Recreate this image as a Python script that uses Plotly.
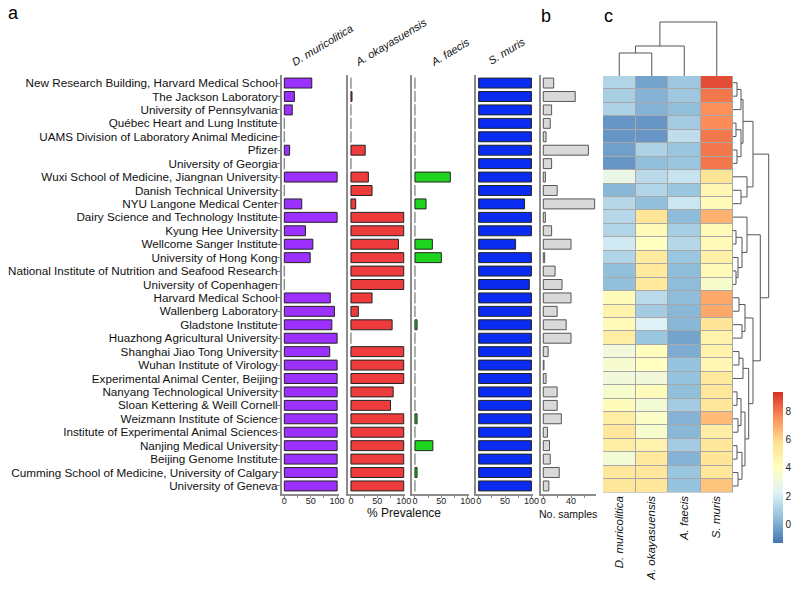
import plotly.graph_objects as go

W, H = 800, 590
def px(p): return p / W
def py(p): return 1 - p / H

FONT = "Arial, Liberation Sans, Helvetica, sans-serif"

institutions = [
    "New Research Building, Harvard Medical School", "The Jackson Laboratory",
    "University of Pennsylvania", "Québec Heart and Lung Institute",
    "UAMS Division of Laboratory Animal Medicine", "Pfizer", "University of Georgia",
    "Wuxi School of Medicine, Jiangnan University", "Danish Technical University",
    "NYU Langone Medical Center", "Dairy Science and Technology Institute",
    "Kyung Hee University", "Wellcome Sanger Institute", "University of Hong Kong",
    "National Institute of Nutrition and Seafood Research", "University of Copenhagen",
    "Harvard Medical School", "Wallenberg Laboratory", "Gladstone Institute",
    "Huazhong Agricultural University", "Shanghai Jiao Tong University",
    "Wuhan Institute of Virology", "Experimental Animal Center, Beijing",
    "Nanyang Technological University", "Sloan Kettering & Weill Cornell",
    "Weizmann Institute of Science", "Institute of Experimental Animal Sciences",
    "Nanjing Medical University", "Beijing Genome Institute",
    "Cumming School of Medicine, University of Calgary", "University of Geneva",
]
species = ["D. muricolitica", "A. okayasuensis", "A. faecis", "S. muris"]

prev_d_muricolitica = [52, 19, 15, 0, 0, 10, 0, 100, 0, 33, 100, 40, 54, 49, 0, 0,
                       87, 95, 90, 100, 86, 100, 100, 100, 100, 100, 100, 100, 100, 100, 100]
prev_a_okayasuensis = [0, 2, 0, 0, 0, 27, 0, 33, 40, 9, 100, 100, 90, 100, 100, 100,
                       40, 14, 78, 0, 100, 100, 100, 80, 75, 100, 100, 100, 100, 100, 100]
prev_a_faecis = [0, 0, 0, 0, 0, 0, 0, 67, 0, 21, 0, 0, 33, 50, 0, 0,
                 0, 0, 4, 0, 0, 0, 0, 0, 0, 4, 0, 34, 0, 4, 0]
prev_s_muris = [100, 100, 100, 100, 100, 100, 100, 100, 100, 87, 100, 100, 70, 100, 100, 96,
                100, 100, 100, 100, 100, 100, 100, 100, 100, 100, 100, 100, 100, 100, 100]
n_samples = [15, 46, 12, 10, 4, 65, 12, 3, 20, 74, 3, 12, 40, 2, 17, 27,
             40, 20, 33, 40, 7, 1, 4, 20, 20, 26, 6, 9, 10, 23, 8]

# clustered heatmap (rows in dendrogram order)
heat_d_muricolitica = [1.2, 1.0, 1.1, -0.5, -0.5, -0.3, -0.5, 2.8, 0.3, 1.3, 1.3, 1.2, 1.9, 1.2, 0.5, 0.5,
                       4.2, 4.8, 4.3, 5.0, 3.2, 3.5, 3.2, 3.6, 4.2, 5.0, 5.4, 5.0, 3.3, 5.4, 5.4]
heat_a_okayasuensis = [-0.2, 0.2, 0.2, -0.5, -0.5, 1.1, 0.5, 1.4, 1.2, 0.5, 5.5, 4.3, 4.0, 5.2, 5.3, 5.3,
                       1.4, 0.9, 2.2, 0.7, 4.1, 4.0, 3.2, 4.2, 3.3, 3.8, 3.6, 4.7, 5.3, 5.4, 5.4]
heat_a_faecis = [0.8, 0.8, 0.5, 0.9, 1.5, 0.7, 0.7, 1.7, 0.7, 1.8, 0.4, 1.0, 1.3, 0.7, 0.4, 0.4,
                 0.4, 0.3, 0.3, -0.2, 0.0, 0.6, 0.6, 0.5, 0.9, 0.2, 0.3, 0.9, 0.2, 0.7, 0.6]
heat_s_muris = [8.8, 8.0, 7.5, 7.6, 8.0, 8.0, 8.0, 5.6, 4.5, 4.3, 6.8, 4.3, 4.3, 4.9, 4.3, 3.6,
                7.0, 7.0, 5.5, 4.8, 4.8, 4.5, 5.3, 5.4, 5.4, 6.6, 5.0, 5.4, 5.5, 5.4, 6.4]
colorbar_ticks = [0, 2, 4, 6, 8]

# dendrogram structures: (left, right, merge height)
col_tree = (((0, 1, 23), 2, 30), 3, 54)
row_tree = (
    ((((0, 1, 4), 2, 8), ((3, 4, 3), (5, 6, 4), 8), 10), (7, (8, 9, 8), 14), 20),
    ((10, ((11, 12, 3), (13, (14, 15, 3), 5), 9), 14),
     (((16, 17, 6), (18, 19, 9), 12),
      (((20, 21, 6), 22, 10),
       (((23, 24, 4), (25, 26, 5), 8), ((27, 28, 4), (29, 30, 5), 9), 12), 15.7), 20), 27.3),
    35.7)

bar_colors = ["#9B30FF", "#EE3B3B", "#1ED41E", "#0A2BF0"]
prev_series = [prev_d_muricolitica, prev_a_okayasuensis, prev_a_faecis, prev_s_muris]
panel_left = [281.7, 348.3, 412.3, 476.0]
panel_w = 57
AX = "#8c8c8c"
bar_dom = [py(494), py(75)]
rows = list(range(len(institutions)))

fig = go.Figure()
layout = dict(
    width=W, height=H, margin=dict(l=0, r=0, t=0, b=0, autoexpand=False),
    paper_bgcolor="white", plot_bgcolor="white", showlegend=False,
    font=dict(family=FONT, color="#111"), template="none",
)

xtickfont = dict(size=9, color="#222")
for i, vals in enumerate(prev_series):
    k = i + 1
    xa, ya = f"x{k}", f"y{k}"
    fig.add_trace(go.Bar(
        orientation="h", y=rows, x=[v if v > 0 else None for v in vals],
        width=0.74, marker=dict(color=bar_colors[i], line=dict(color="#222", width=1)),
        xaxis=xa, yaxis=ya))
    zeros = [r for r, v in zip(rows, vals) if v == 0]
    if zeros:
        fig.add_trace(go.Scatter(
            x=[0] * len(zeros), y=zeros, mode="markers", cliponaxis=False,
            marker=dict(symbol="line-ns", size=8, color="#888",
                        line=dict(color="#8a8a8a", width=1.4)),
            xaxis=xa, yaxis=ya))
    L = panel_left[i]
    layout[f"xaxis{k}"] = dict(
        domain=[px(L), px(L + panel_w)], range=[-5, 103], anchor=ya,
        showline=True, linecolor=AX, linewidth=1.5, showgrid=False, zeroline=False,
        ticks="outside", ticklen=2, tickcolor=AX, tickvals=[0, 50, 100],
        tickfont=xtickfont, ticklabelstandoff=-5,
        minor=dict(dtick=25, ticks="outside", ticklen=2, tickcolor=AX, showgrid=False))
    yax = dict(domain=bar_dom, range=[30.6, -0.6], anchor=xa, showline=True,
               linecolor=AX, linewidth=1.5, showgrid=False, zeroline=False)
    if i == 0:
        yax.update(tickvals=rows, ticktext=institutions, ticks="outside", ticklen=3,
                   tickcolor=AX, tickfont=dict(size=11.7, color="#111"),
                   ticklabelstandoff=-3)
    else:
        yax.update(showticklabels=False, ticks="")
    layout[f"yaxis{k}"] = yax

# panel b: number of samples
fig.add_trace(go.Bar(orientation="h", y=rows, x=n_samples, width=0.74,
                     marker=dict(color="#d9d9d9", line=dict(color="#555", width=1)),
                     xaxis="x5", yaxis="y5"))
layout["xaxis5"] = dict(
    domain=[px(541), px(596)], range=[-3.3, 76], anchor="y5",
    showline=True, linecolor=AX, linewidth=1.5, showgrid=False, zeroline=False,
    ticks="outside", ticklen=2, tickcolor=AX, tickvals=[0, 40],
    tickfont=xtickfont, ticklabelstandoff=-5,
    minor=dict(dtick=20, ticks="outside", ticklen=2, tickcolor=AX, showgrid=False))
layout["yaxis5"] = dict(domain=bar_dom, range=[30.6, -0.6], anchor="x5", showline=True,
                        linecolor=AX, linewidth=1.5, showgrid=False, zeroline=False,
                        showticklabels=False, ticks="")

# panel c: heatmap
z = [list(r) for r in zip(heat_d_muricolitica, heat_a_okayasuensis, heat_a_faecis, heat_s_muris)]
scale = ["#4575B4", "#91BFDB", "#E0F3F8", "#FFFFBF", "#FEE090", "#FC8D59", "#D73027"]
fig.add_trace(go.Heatmap(
    z=z, x=list(range(4)), y=rows, zmin=-1.3, zmax=9.36,
    colorscale=[[j / 6, c] for j, c in enumerate(scale)], xgap=1, ygap=1,
    colorbar=dict(x=px(773), xanchor="left", y=py(392), yanchor="top",
                  len=151 / H, lenmode="fraction", thickness=10, outlinewidth=0,
                  xpad=0, ypad=0, tickvals=colorbar_ticks, ticks="",
                  tickfont=dict(size=10, color="#222")),
    xaxis="x6", yaxis="y6"))
hx = [px(603), px(733)]
hy = [py(492.7), py(76)]
layout["xaxis6"] = dict(domain=hx, range=[-0.5, 3.5], anchor="y6", showgrid=False,
                        zeroline=False, showline=False, ticks="", tickangle=-90,
                        tickvals=list(range(4)), ticktext=[f"<i>{s}</i>" for s in species],
                        tickfont=dict(size=11.5, color="#111"))
layout["yaxis6"] = dict(domain=hy, range=[30.5, -0.5], anchor="x6", showgrid=False,
                        zeroline=False, showline=False, showticklabels=False, ticks="")
layout["shapes"] = [dict(type="rect", xref="x6", yref="y6", x0=-0.5, x1=3.5, y0=-0.5, y1=30.5,
                         fillcolor="#a8a8a8", line=dict(width=0), layer="below")]


def tree_lines(node):
    pos, hts = [], []
    def rec(n):
        if isinstance(n, int):
            return float(n), 0.0
        a, b, h = n
        pa, ha = rec(a)
        pb, hb = rec(b)
        pos.extend([pa, pa, pb, pb, None])
        hts.extend([ha, h, h, hb, None])
        return (pa + pb) / 2, h
    rec(node)
    return pos, hts

cp, ch = tree_lines(col_tree)
fig.add_trace(go.Scatter(x=cp, y=ch, mode="lines", line=dict(color="#555", width=1),
                         xaxis="x7", yaxis="y7", hoverinfo="skip"))
layout["xaxis7"] = dict(domain=hx, range=[-0.5, 3.5], anchor="y7", visible=False)
layout["yaxis7"] = dict(domain=[py(76), py(21)], range=[0, 55], anchor="x7", visible=False)

rp, rh = tree_lines(row_tree)
fig.add_trace(go.Scatter(x=rh, y=rp, mode="lines", line=dict(color="#555", width=1),
                         xaxis="x8", yaxis="y8", hoverinfo="skip"))
layout["xaxis8"] = dict(domain=[px(733), px(771)], range=[0, 38], anchor="y8", visible=False)
layout["yaxis8"] = dict(domain=hy, range=[30.5, -0.5], anchor="x8", visible=False)

ann = []
for lab, xp, yp in [("a", 13, 13), ("b", 546, 16.5), ("c", 608, 16)]:
    ann.append(dict(text=lab, x=px(xp), y=py(yp), xref="paper", yref="paper",
                    xanchor="center", yanchor="middle",
                    showarrow=False, font=dict(size=18, color="#000")))
for s, xl, yb in zip(species, [287, 350, 425, 483], [71, 71, 71, 69]):
    ann.append(dict(text=f"<i>{s}</i>", x=px(xl), y=py(yb), xref="paper", yref="paper",
                    xanchor="left", yanchor="bottom", textangle=-31, showarrow=False,
                    font=dict(size=11, color="#111")))
ann.append(dict(text="% Prevalence", x=px(404), y=py(513), xref="paper", yref="paper",
                xanchor="center", yanchor="middle",
                showarrow=False, font=dict(size=12, color="#111")))
ann.append(dict(text="No. samples", x=px(568), y=py(514), xref="paper", yref="paper",
                xanchor="center", yanchor="middle",
                showarrow=False, font=dict(size=10.5, color="#111")))
layout["annotations"] = ann

fig.update_layout(**layout)
fig.write_html("out.html", config={"displayModeBar": False},
               post_script="document.body.style.margin='0';")
